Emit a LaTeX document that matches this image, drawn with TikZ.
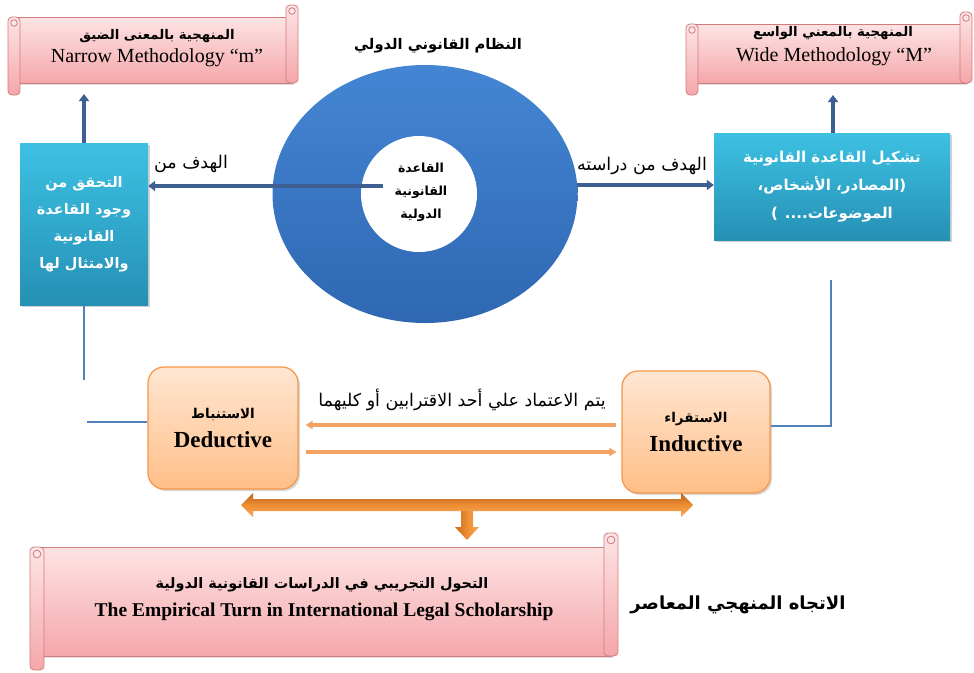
\documentclass[tikz,border=0pt]{standalone}
\usepackage{fontspec}
\setmainfont{Liberation Serif}
\newfontfamily\arfont[Script=Arabic]{DejaVu Sans}
\TeXXeTstate=1
\usetikzlibrary{arrows.meta,shapes.geometric,shadows}
\newcommand\AR[1]{{\arfont\beginR #1\endR}}
\definecolor{scrtop}{HTML}{FDE4E5}
\definecolor{scrbot}{HTML}{F5A7AA}
\definecolor{scrline}{HTML}{D07C7F}
\definecolor{tealtop}{HTML}{3DC1E3}
\definecolor{tealbot}{HTML}{2590B4}
\definecolor{bigtop}{HTML}{4486D4}
\definecolor{bigbot}{HTML}{2F67B2}
\definecolor{darkblue}{HTML}{3D5F91}
\definecolor{lightblue}{HTML}{4F81BD}
\definecolor{orgtop}{HTML}{FFE6D2}
\definecolor{orgbot}{HTML}{FFBF88}
\definecolor{orgline}{HTML}{F79646}
\definecolor{orgarrow}{HTML}{F4A261}
\definecolor{bigarrtop}{HTML}{B9621B}
\definecolor{bigarrmid}{HTML}{EE8E33}
\definecolor{bigarrbot}{HTML}{F7A95A}
\tikzset{
  scrollfill/.style={top color=scrtop,bottom color=scrbot,draw=scrline,line width=0.8pt},
  scrollcurl/.style={draw=scrline,line width=0.8pt,fill=scrtop},
  tealbox/.style={rectangle,top color=tealtop,bottom color=tealbot,draw=none,
    drop shadow={opacity=0.35,shadow xshift=2pt,shadow yshift=-2pt},
    text=white,align=center},
  orgbox/.style={rectangle,rounded corners=16pt,top color=orgtop,bottom color=orgbot,
    draw=orgline,line width=1.2pt,
    drop shadow={opacity=0.3,shadow xshift=2pt,shadow yshift=-2pt},
    align=center},
  darkarrow/.style={draw=darkblue,line width=3.8pt,-{Triangle[length=7pt,width=10pt]}},
  blueline/.style={draw=lightblue,line width=2.5pt},
  orgthin/.style={draw=orgarrow,line width=3.2pt,-{Triangle[length=7pt,width=8pt]}},
  arlabel/.style={font=\fontsize{17.5}{20}\selectfont,inner sep=0pt},
  artitle/.style={font=\bfseries\fontsize{14.7}{17}\selectfont,inner sep=0pt},
  scrolltext/.style={align=center,inner sep=0pt},
}
\newcommand\drawscroll[5]{%
  \pgfmathsetmacro\sxa{#1}\pgfmathsetmacro\sya{#2}%
  \pgfmathsetmacro\sxb{#3}\pgfmathsetmacro\syb{#4}\pgfmathsetmacro\sr{#5}%
  \pgfmathsetmacro\bxa{\sxa+\sr}\pgfmathsetmacro\bxb{\sxb-\sr}%
  \pgfmathsetmacro\bya{\sya+2*\sr}\pgfmathsetmacro\byb{\syb-2*\sr}%
  \pgfmathsetmacro\lxb{\sxa+2*\sr}\pgfmathsetmacro\rxa{\sxb-2*\sr}%
  \path[scrollfill,drop shadow={opacity=0.25,shadow xshift=2pt,shadow yshift=-2pt}] (\bxa,\bya) rectangle (\bxb,\byb);
  \path[scrollfill,rounded corners=4pt] (\rxa,\sya) rectangle (\sxb,\byb);
  \path[scrollfill,rounded corners=4pt] (\sxa,\bya) rectangle (\lxb,\syb);
  \path[scrollcurl] ({\sxb-\sr},{\sya+\sr}) circle ({0.55*\sr});
  \path[scrollcurl] ({\sxa+\sr},{\bya+\sr}) circle ({0.55*\sr});
}
\begin{document}
\begin{tikzpicture}[x=1pt,y=-1pt]
\useasboundingbox (0,0) rectangle (974,672);
\fill[white] (0,0) rectangle (974,672);

% ---- scrolls ----
\drawscroll{8}{5}{298}{95}{6}
\node[scrolltext] (s1a) at (157,36) {\bfseries\fontsize{13.3}{15}\selectfont\AR{المنهجية بالمعنى الضيق}};
\node[scrolltext] (s1b) at (157,58) {\fontsize{20}{22}\selectfont Narrow Methodology “m”};
\coordinate (s1bot) at (84,94);

\drawscroll{686}{12}{972}{95}{6}
\node[scrolltext] (s2a) at (833,33) {\bfseries\fontsize{13.3}{15}\selectfont\AR{المنهجية بالمعني الواسع}};
\node[scrolltext] (s2b) at (834,57) {\fontsize{20}{22}\selectfont Wide Methodology “M”};
\coordinate (s2bot) at (833,95);

\drawscroll{30}{533}{618}{670}{7}
\node[scrolltext] (s3a) at (322,585) {\bfseries\fontsize{14.4}{16}\selectfont\AR{التحول التجريبي في الدراسات القانونية الدولية}};
\node[scrolltext] (s3b) at (324,612) {\bfseries\fontsize{19.5}{22}\selectfont The Empirical Turn in International Legal Scholarship};

% ---- centre ellipse ----
\node[artitle] (title) at (438,46) {\AR{النظام القانوني الدولي}};
\node[ellipse,minimum width=305pt,minimum height=258pt,top color=bigtop,bottom color=bigbot,draw=none] (big) at (425,194) {};
\node[circle,minimum size=116pt,fill=white,draw=none] (inner) at (419,194) {};
\node[align=center,font=\bfseries\fontsize{12.5}{23}\selectfont,inner sep=0pt] (innert) at (421,192) {\AR{القاعدة}\\\AR{القانونية}\\\AR{الدولية}};

% ---- teal boxes ----
\node[tealbox,font=\bfseries\fontsize{14.5}{27}\selectfont,minimum width=128pt,minimum height=162pt] (lbox) at (84,224)
  {\AR{التحقق من}\\\AR{وجود القاعدة}\\\AR{القانونية}\\\AR{والامتثال لها}};
\node[tealbox,font=\bfseries\fontsize{15}{28}\selectfont,minimum width=236pt,minimum height=107pt] (rbox) at (832,186.5)
  {\AR{تشكيل القاعدة القانونية}\\\AR{(المصادر، الأشخاص،}\\\AR{الموضوعات.... )}};

% ---- dark arrows ----
\coordinate (lstart) at (383,186);
\coordinate (rstart) at (577,185);
\draw[darkarrow] (lstart) -- (lbox.east |- lstart);
\draw[darkarrow] (rstart) -- (rbox.west |- rstart);
\node[arlabel] (lab1) at (191,164) {\AR{الهدف من}};
\node[arlabel] (lab2) at (642,166) {\AR{الهدف من دراسته}};
\draw[darkarrow] (lbox.north) -- (s1bot);
\draw[darkarrow] (rbox.north -| s2bot) -- (s2bot);

% ---- orange boxes ----
\node[orgbox,minimum width=150pt,minimum height=122pt] (ded) at (223,428)
  {\bfseries\fontsize{13.5}{15}\selectfont\AR{الاستنباط}\\[9pt]\bfseries\fontsize{23}{24}\selectfont Deductive};
\node[orgbox,minimum width=148pt,minimum height=122pt] (ind) at (696,432)
  {\bfseries\fontsize{13.5}{15}\selectfont\AR{الاستقراء}\\[9pt]\bfseries\fontsize{23}{24}\selectfont Inductive};

% ---- light blue lines ----
\coordinate (lb1) at (84,380);
\coordinate (lb2) at (87,422);
\coordinate (rb1) at (831,280);
\coordinate (rb2) at (831,426);
\draw[blueline] (lbox.south) -- (lb1);
\draw[blueline] (lb2) -- (ded.west |- lb2);
\draw[blueline] (rb1) -- (rb2) -- (ind.east |- rb2);

% ---- thin orange arrows ----
\coordinate (oa) at (0,425);
\coordinate (ob) at (0,452);
\draw[orgthin,shorten <=5pt,shorten >=7pt] (ind.west |- oa) -- (ded.east |- oa);
\draw[orgthin,shorten <=7pt,shorten >=5pt] (ded.east |- ob) -- (ind.west |- ob);
\node[arlabel] (mid) at (462,400) {\AR{يتم الاعتماد علي أحد الاقترابين أو كليهما}};

% ---- big double arrow ----
\path[top color=bigarrtop,bottom color=bigarrbot,middle color=bigarrmid,draw=none]
  (241,505) -- (253,493) -- (253,499) -- (681,499) -- (681,493) -- (693,505)
  -- (681,517) -- (681,511) -- (253,511) -- (253,517) -- cycle;
\path[left color=bigarrtop!80!bigarrmid,right color=bigarrbot,middle color=bigarrmid,draw=none]
  (461,511) -- (473,511) -- (473,527) -- (479,527) -- (467,540) -- (455,527) -- (461,527) -- cycle;

\node[inner sep=0pt,font=\bfseries\fontsize{18}{20}\selectfont] (trend) at (738,605) {\AR{الاتجاه المنهجي المعاصر}};
\end{tikzpicture}
\end{document}
